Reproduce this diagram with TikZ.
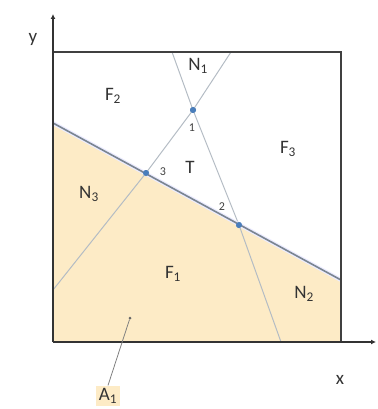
\documentclass[tikz,border=0pt]{standalone}
\usepackage{fontspec}
\setmainfont{Carlito}
\usetikzlibrary{arrows.meta}
\definecolor{fillor}{HTML}{FDEBC6}
\definecolor{bline}{HTML}{7A8591}
\definecolor{tline}{HTML}{B4BCC4}
\definecolor{ptblue}{HTML}{4A7EBB}
\tikzset{
  lbl/.style={font=\fontsize{19}{19}\selectfont, text=black!80, inner sep=1pt},
  small/.style={font=\fontsize{12}{12}\selectfont, text=black!75, inner sep=1pt},
  thin/.style={draw=tline, line width=1pt},
  pt/.style={circle, fill=ptblue, inner sep=0pt, minimum size=6pt},
}
\begin{document}
\begin{tikzpicture}[x=1pt,y=-1pt]
\useasboundingbox (0,0) rectangle (377,409);
% shaded region
\fill[fillor] (53,123) -- (341,280) -- (341,342) -- (53,342) -- cycle;
% coordinates
\coordinate (tl) at (172,52);
\coordinate (tr) at (231,52);
\coordinate (bb) at (281,342);
\coordinate (ll) at (53,290);
\coordinate (ml) at (53,123);
\coordinate (mr) at (341,280);
% thin lines
\node[pt] (p1) at (193,110) {};
\node[pt] (p3) at (146,173) {};
\node[pt] (p2) at (239,225) {};
\draw[thin] (tl) -- (p1.center) -- (p2.center) -- (bb);
\draw[thin] (tr) -- (p1.center) -- (p3.center) -- (ll);
% main boundary line
\draw[draw=blue!8, line width=4pt] (ml) -- (mr);
\draw[draw=bline, line width=1.6pt] (ml) -- (mr);
\node[pt] at (p1) {};
\node[pt] at (p3) {};
\node[pt] at (p2) {};
% box
\coordinate (bx1) at (53,52);
\coordinate (bx2) at (341,342);
\draw[black!75, line width=1.8pt] (bx1) -- (bx2 |- bx1) -- (bx2);
% axes
\coordinate (o) at (53,342);
\coordinate (ytip) at (53,14);
\coordinate (xtip) at (376,342);
\draw[black!80, line width=1.8pt, -{Latex[length=5pt,width=5pt]}] (o) -- (ytip);
\draw[black!80, line width=1.8pt, -{Latex[length=5pt,width=5pt]}] (o) -- (xtip);
\node[lbl] (ylab) at (33,39) {y};
\node[lbl] (xlab) at (340,380) {x};
% labels
\node[lbl] (F2) at (113,96) {F\textsubscript{2}};
\node[lbl] (N1) at (198,66) {N\textsubscript{1}};
\node[lbl] (F3) at (288,149) {F\textsubscript{3}};
\node[lbl] (T) at (190,167) {T};
\node[lbl] (N3) at (89,194) {N\textsubscript{3}};
\node[lbl] (F1) at (173,274) {F\textsubscript{1}};
\node[lbl] (N2) at (304,294) {N\textsubscript{2}};
\node[small] (l1) at (192,128) {1};
\node[small] (l3) at (163,172) {3};
\node[small] (l2) at (222,207) {2};
% A1
\node[circle, fill=black!60, inner sep=0pt, minimum size=3pt] (a1dot) at (130,318) {};
\node[lbl, fill=fillor, inner sep=3pt] (A1) at (108,396) {A\textsubscript{1}};
\draw[black!50, line width=0.8pt] (a1dot) -- (A1.north);
\end{tikzpicture}
\end{document}
